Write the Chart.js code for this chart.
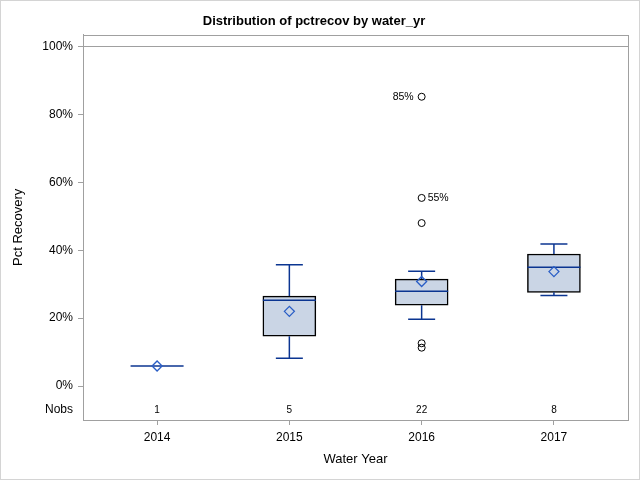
<!DOCTYPE html>
<html>
<head>
<meta charset="utf-8">
<script src="https://cdn.jsdelivr.net/npm/chart.js@4/dist/chart.umd.min.js"></script>
<style>
  body { margin: 0; background: #fff; }
  canvas { display: block; }
</style>
</head>
<body>
<canvas id="chart" width="640" height="480"></canvas>
<script>
// box plot data (percent)
var years = ['2014', '2015', '2016', '2017'];
var nobs = [1, 5, 22, 8];
var whiskerLow = [5.9, 8.2, 19.7, 26.7];
var q1 = [5.9, 14.7, 23.8, 27.6];
var median = [5.9, 25.3, 27.9, 35.0];
var q3 = [5.9, 26.5, 31.5, 38.9];
var whiskerHigh = [5.9, 35.7, 33.8, 41.8];
var mean = [5.9, 22.0, 30.8, 33.7];
var outlierGroup = [2, 2, 2, 2, 2];
var outlierValues = [85.2, 55.4, 48.0, 12.6, 11.3];
var outlierLabels = ['85%', '55%', '', '', ''];
var yTicks = [0, 20, 40, 60, 80, 100];

var FONT = '"Liberation Sans", Arial, sans-serif';
var NOBS_Y = -7;
var blue = '#0b3591';
var axisGray = '#a0a0a0';

// build the datasets from the arrays above
var boxes = [], stems = [], caps = [], medians = [], means = [], outliers = [];
for (var i = 0; i < years.length; i++) {
    if (q3[i] > q1[i]) boxes.push({ x: i, y: [q1[i], q3[i]] });
    if (whiskerHigh[i] > q3[i]) stems.push({ x: i, y: q3[i] }, { x: i, y: whiskerHigh[i] }, { x: i, y: null });
    if (whiskerLow[i] < q1[i]) stems.push({ x: i, y: whiskerLow[i] }, { x: i, y: q1[i] }, { x: i, y: null });
    if (whiskerHigh[i] > whiskerLow[i]) caps.push({ x: i, y: whiskerLow[i] }, { x: i, y: whiskerHigh[i] });
    medians.push({ x: i, y: median[i] });
    means.push({ x: i, y: mean[i] });
}
for (var j = 0; j < outlierValues.length; j++) {
    outliers.push({ x: outlierGroup[j], y: outlierValues[j] });
}

// frame, outer border and text labels (nobs + outlier labels)
var extras = {
    id: 'extras',
    beforeDraw: function (chart) {
        var c = chart.ctx;
        c.save();
        c.fillStyle = '#fff';
        c.fillRect(0, 0, chart.width, chart.height);
        c.strokeStyle = '#d4d4d4';
        c.lineWidth = 1;
        c.strokeRect(0.5, 0.5, chart.width - 1, chart.height - 1);
        c.restore();
    },
    afterDraw: function (chart) {
        var c = chart.ctx, a = chart.chartArea;
        var xs = chart.scales.x, ys = chart.scales.y;
        c.save();
        c.strokeStyle = axisGray;
        c.lineWidth = 1;
        c.strokeRect(Math.round(a.left) + 0.5, Math.round(a.top) + 0.5,
            Math.round(a.right - a.left), Math.round(a.bottom - a.top));
        c.fillStyle = '#000';
        c.font = '10px ' + FONT;
        c.textAlign = 'center';
        c.textBaseline = 'middle';
        for (var i = 0; i < nobs.length; i++) {
            c.fillText(String(nobs[i]), xs.getPixelForValue(i), ys.getPixelForValue(NOBS_Y));
        }
        c.font = '10.5px ' + FONT;
        for (var j = 0; j < outlierValues.length; j++) {
            if (!outlierLabels[j]) continue;
            var px = xs.getPixelForValue(outlierGroup[j]);
            var py = ys.getPixelForValue(outlierValues[j]);
            if (j === 0) { c.textAlign = 'right'; c.fillText(outlierLabels[j], px - 8, py); }
            else { c.textAlign = 'left'; c.fillText(outlierLabels[j], px + 6, py); }
        }
        c.restore();
    }
};

var ctx = document.getElementById('chart').getContext('2d');
var chart = new Chart(ctx, {
    type: 'bar',
    data: {
        datasets: [
            { type: 'scatter', data: means, pointStyle: 'rectRot', radius: 5, borderColor: '#2a5ec6', backgroundColor: 'rgba(0,0,0,0)', borderWidth: 1.3, order: 1 },
            { type: 'scatter', data: medians, pointStyle: 'line', radius: 26.5, borderColor: blue, borderWidth: 1.5, order: 2 },
            { type: 'scatter', data: caps, pointStyle: 'line', radius: 13.5, borderColor: blue, borderWidth: 1.5, order: 3 },
            { type: 'scatter', data: stems, showLine: true, spanGaps: false, pointRadius: 0, borderColor: blue, borderWidth: 1.5, order: 4 },
            { type: 'scatter', data: outliers, pointStyle: 'circle', radius: 3.5, borderColor: '#000', backgroundColor: 'rgba(0,0,0,0)', borderWidth: 1, order: 1 },
            { type: 'bar', data: boxes, backgroundColor: '#cad5e5', borderColor: '#000', borderWidth: 1.5, borderSkipped: false, barThickness: 53, order: 9 }
        ]
    },
    options: {
        responsive: false,
        animation: false,
        devicePixelRatio: 1,
        layout: { autoPadding: false, padding: { left: 0, right: 12, top: 0, bottom: 0 } },
        plugins: {
            legend: { display: false },
            tooltip: { enabled: false },
            title: {
                display: true,
                text: 'Distribution of pctrecov by water_yr',
                color: '#000',
                font: { family: FONT, size: 13, weight: 'bold' },
                padding: { top: 14, bottom: 5 }
            }
        },
        scales: {
            x: {
                type: 'linear',
                offset: false,
                min: -0.56,
                max: 3.56,
                afterBuildTicks: function (s) { s.ticks = years.map(function (y, i) { return { value: i }; }); },
                afterFit: function (s) { s.height = 60; s.paddingLeft = 0; s.paddingRight = 0; },
                ticks: {
                    color: '#000', padding: 5, maxRotation: 0,
                    font: { family: FONT, size: 12 },
                    callback: function (v) { return years[v]; }
                },
                grid: { offset: false, drawOnChartArea: false, tickLength: 5, tickColor: axisGray },
                border: { color: axisGray },
                title: {
                    display: true, text: 'Water Year', color: '#000',
                    font: { family: FONT, size: 13 },
                    padding: { top: 0, bottom: 13 }
                }
            },
            y: {
                min: -10,
                max: 103.5,
                afterBuildTicks: function (s) {
                    s.ticks = [{ value: NOBS_Y }].concat(yTicks.map(function (v) { return { value: v }; }));
                },
                afterFit: function (s) { s.width = 83; s.paddingTop = 0; s.paddingBottom = 0; },
                ticks: {
                    color: '#000', padding: 5,
                    font: { family: FONT, size: 12 },
                    callback: function (v) { return v === NOBS_Y ? 'Nobs' : v + '%'; }
                },
                grid: {
                    tickLength: 5,
                    color: function (c) { return c.tick && c.tick.value === 100 ? axisGray : 'rgba(0,0,0,0)'; },
                    tickColor: function (c) { return c.tick && c.tick.value === NOBS_Y ? 'rgba(0,0,0,0)' : axisGray; }
                },
                border: { color: axisGray },
                title: {
                    display: true, text: 'Pct Recovery', color: '#000',
                    font: { family: FONT, size: 13 },
                    padding: { top: 11, bottom: 0 }
                }
            }
        }
    },
    plugins: [extras]
});
</script>
</body>
</html>
